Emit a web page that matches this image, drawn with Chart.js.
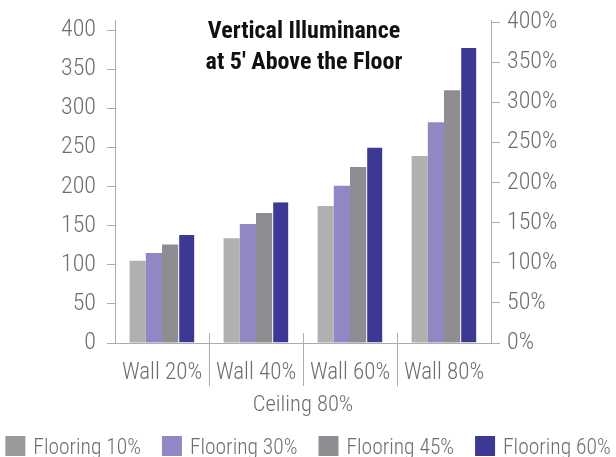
<!DOCTYPE html>
<html>
<head>
<meta charset="utf-8">
<script src="https://cdn.jsdelivr.net/npm/chart.js@4/dist/chart.umd.min.js"></script>
<style>
  html, body { margin: 0; padding: 0; background: #fff; overflow: hidden; }
  #wrap { width: 616px; height: 457px; }
</style>
</head>
<body>
<div id="wrap"><canvas id="illumChart" width="616" height="457"></canvas></div>
<script>
// data
var walls = ["Wall 20%", "Wall 40%", "Wall 60%", "Wall 80%"];
var floorings = ["Flooring 10%", "Flooring 30%", "Flooring 45%", "Flooring 60%"];
var flooring10 = [105, 134, 175, 239];
var flooring30 = [115, 152, 201, 282];
var flooring45 = [126, 166, 225, 323];
var flooring60 = [138, 180, 250, 377];
var luxTicks = [0, 50, 100, 150, 200, 250, 300, 350, 400];
var pctTicks = [0, 50, 100, 150, 200, 250, 300, 350, 400];
var titleLines = ["Vertical Illuminance", "at 5' Above the Floor"];
var axisTitle = "Ceiling 80%";

var barColors = ["#b0b0b0", "#8f88c3", "#8e8d92", "#3d3893"];
var swatchColors = ["#9a9a9a", "#8f88c3", "#8e8d92", "#3d3893"];
var FONT = "'Roboto Condensed', 'DejaVu Sans Condensed', sans-serif";
var labelGrey = "#6e6e6e";
var lineGrey = "#acacac";

// title drawn inside the plot area, over the bars
var titleInside = {
  id: "titleInside",
  afterDraw: function (chart) {
    var ctx = chart.ctx;
    var area = chart.chartArea;
    var cx = (area.left + area.right) / 2;
    ctx.save();
    ctx.fillStyle = "#111";
    ctx.font = "bold 24px " + FONT;
    ctx.textAlign = "center";
    ctx.textBaseline = "alphabetic";
    ctx.fillText(titleLines[0], cx + 1, area.top + 18);
    ctx.fillText(titleLines[1], cx + 1, area.top + 49);
    ctx.restore();
  },
};

// vertical separators between the wall groups
var groupDividers = {
  id: "groupDividers",
  afterDraw: function (chart) {
    var ctx = chart.ctx;
    var x = chart.scales.x;
    var bottom = chart.chartArea.bottom;
    ctx.save();
    ctx.strokeStyle = lineGrey;
    ctx.lineWidth = 1;
    for (var i = 1; i < walls.length; i++) {
      var px = Math.round((x.getPixelForValue(i - 1) + x.getPixelForValue(i)) / 2) + 0.5;
      ctx.beginPath();
      ctx.moveTo(px, bottom - 10);
      ctx.lineTo(px, bottom + 43);
      ctx.stroke();
    }
    ctx.restore();
  },
};

// one-row legend along the bottom edge (built-in one wraps at this width)
var bottomLegend = {
  id: "bottomLegend",
  afterDraw: function (chart) {
    var ctx = chart.ctx;
    var box = 20, gapText = 8, gapItem = 21;
    ctx.save();
    ctx.font = "300 21.5px " + FONT;
    var widths = chart.data.datasets.map(function (ds) {
      return ctx.measureText(ds.label).width;
    });
    var total = 0;
    widths.forEach(function (w) {
      total += box + gapText + w;
    });
    total += gapItem * (widths.length - 1);
    var x = (chart.width - total) / 2;
    var top = chart.height - 21;
    ctx.textBaseline = "alphabetic";
    ctx.textAlign = "left";
    chart.data.datasets.forEach(function (ds, i) {
      ctx.fillStyle = swatchColors[i];
      ctx.fillRect(x, top, box, box);
      ctx.fillStyle = labelGrey;
      ctx.fillText(ds.label, x + box + gapText, top + 17.5);
      x += box + gapText + widths[i] + gapItem;
    });
    ctx.restore();
  },
};

var series = [flooring10, flooring30, flooring45, flooring60];
var datasets = series.map(function (vals, i) {
  return {
    label: floorings[i],
    data: vals,
    backgroundColor: barColors[i],
    borderColor: "#ffffff",
    borderWidth: i === 3 ? { left: 1, right: 0, top: 0, bottom: 0 } : 0,
    borderSkipped: false,
    categoryPercentage: 0.69,
    barPercentage: 1.0,
  };
});

function fixedTicks(list) {
  return function (scale) {
    scale.ticks = list.map(function (v) {
      return { value: v };
    });
  };
}

function fitSide(width) {
  return function (scale) {
    scale.width = width;
    // the top label sits below the axis end, so no extra room is needed
    scale.paddingTop = 0;
    scale.paddingBottom = 0;
  };
}

var ctx = document.getElementById("illumChart").getContext("2d");
var chart = new Chart(ctx, {
  type: "bar",
  data: { labels: walls, datasets: datasets },
  plugins: [titleInside, groupDividers, bottomLegend],
  options: {
    responsive: false,
    animation: false,
    layout: { padding: { top: 20, left: 0, right: 0, bottom: 38 } },
    scales: {
      x: {
        grid: { display: false },
        border: { display: true, color: lineGrey },
        ticks: {
          color: labelGrey,
          padding: 8,
          maxRotation: 0,
          autoSkip: false,
          font: { family: FONT, size: 23, weight: 300 },
        },
        title: {
          display: true,
          text: axisTitle,
          color: labelGrey,
          padding: 0,
          font: { family: FONT, size: 22.5, weight: 300 },
        },
        afterFit: function (scale) {
          scale.height = scale.chart.height - 38 - 343;
          scale.paddingLeft = 0;
          scale.paddingRight = 0;
        },
      },
      y: {
        position: "left",
        min: 0,
        max: 412.8,
        afterBuildTicks: fixedTicks(luxTicks),
        grid: { drawOnChartArea: false, color: lineGrey, tickLength: 8 },
        border: { color: lineGrey },
        ticks: {
          padding: 11,
          color: labelGrey,
          font: { family: FONT, size: 24, weight: 300 },
        },
        afterFit: fitSide(115),
      },
      y2: {
        position: "right",
        min: 0,
        max: 402.5,
        afterBuildTicks: fixedTicks(pctTicks),
        grid: { drawOnChartArea: false, color: lineGrey, tickLength: 9 },
        border: { color: lineGrey },
        ticks: {
          padding: 7,
          color: labelGrey,
          font: { family: FONT, size: 24, weight: 300 },
          callback: function (v) {
            return v + "%";
          },
        },
        afterFit: fitSide(125),
      },
    },
    plugins: {
      tooltip: { enabled: false },
      legend: { display: false },
    },
  },
});
</script>
</body>
</html>
